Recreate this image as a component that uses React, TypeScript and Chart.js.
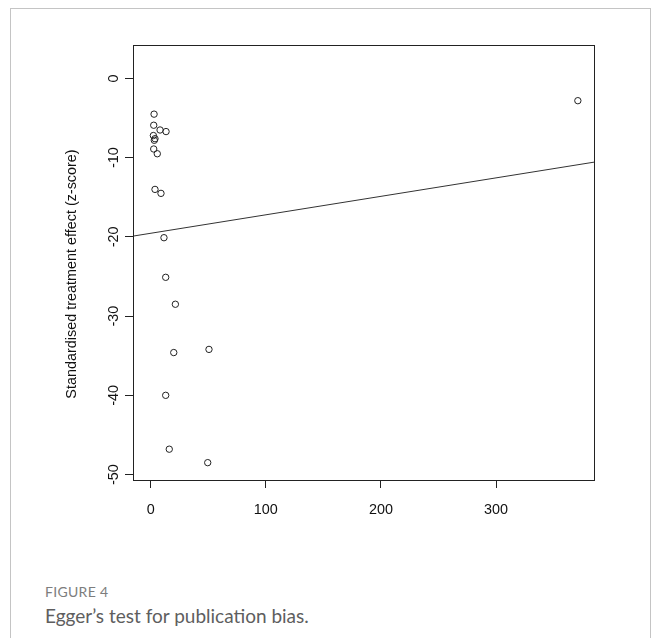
import React, { useEffect, useRef } from "react";
import { Chart, registerables } from "chart.js";

Chart.register(...registerables);

// Study points (inverse of standard error vs standardised effect)
const inverseSE = [2.9, 2.6, 8.1, 13.3, 2.3, 3.1, 3.7, 2.6, 5.7, 3.7, 8.9, 11.5, 13.0, 21.4, 20.0, 50.6, 13.0, 16.1, 49.5, 371];
const zScore = [-4.5, -5.9, -6.5, -6.7, -7.2, -7.8, -7.6, -8.9, -9.5, -14.0, -14.5, -20.1, -25.1, -28.5, -34.6, -34.2, -40.0, -46.8, -48.5, -2.8];

// Egger regression line (abline)
const regIntercept = -19.54;
const regSlope = 0.02332;

// Axes
const xTicks = [0, 100, 200, 300];
const yTicks = [0, -10, -20, -30, -40, -50];
const xRange = [-15.4, 385.9];
const yRange = [-50.69, 4.23];

const xTitle = "Inverse of standard error";
const yTitle = "Standardised treatment effect (z-score)";
const figureLabel = "FIGURE 4";
const caption = "Egger\u2019s test for publication bias.";

const FONT = '"Liberation Sans", Arial, Helvetica, sans-serif';

export default function App() {
  const ref = useRef<HTMLCanvasElement | null>(null);

  useEffect(() => {
    if (!ref.current) return;
    const points = inverseSE.map((x, i) => ({ x, y: zScore[i] }));
    const linePts = xRange.map((x) => ({ x, y: regIntercept + regSlope * x }));

    const boxAndTitles = {
      id: "boxAndTitles",
      afterDraw(chart: any) {
        const { ctx, chartArea } = chart;
        const { left, right, top, bottom } = chartArea;
        ctx.save();
        ctx.strokeStyle = "#222";
        ctx.lineWidth = 1;
        ctx.strokeRect(Math.round(left) + 0.5, Math.round(top) + 0.5, Math.round(right - left) - 1, Math.round(bottom - top));
        ctx.font = `14.4px ${FONT}`;
        ctx.fillStyle = "#111";
        ctx.textAlign = "center";
        ctx.textBaseline = "middle";
        ctx.fillText(xTitle, (left + right) / 2 - 12, bottom + 68);
        ctx.translate(left - 61, (top + bottom) / 2 + 11.5);
        ctx.rotate(-Math.PI / 2);
        ctx.fillText(yTitle, 0, 0);
        ctx.restore();
      },
    };

    const chart = new Chart(ref.current, {
      type: "scatter",
      data: {
        datasets: [
          {
            label: "studies",
            data: points,
            pointStyle: "circle",
            pointRadius: 3.2,
            pointHoverRadius: 3.2,
            pointBorderWidth: 1,
            borderColor: "#222",
            backgroundColor: "rgba(0,0,0,0)",
            pointBackgroundColor: "rgba(0,0,0,0)",
            pointBorderColor: "#222",
          },
          {
            type: "line",
            label: "regression",
            data: linePts,
            showLine: true,
            pointRadius: 0,
            borderColor: "#333",
            borderWidth: 1,
            fill: false,
          } as any,
        ],
      },
      options: {
        responsive: false,
        animation: false,
        events: [],
        layout: { padding: { top: 45, right: 59, bottom: 0, left: 0 } },
        plugins: { legend: { display: false }, tooltip: { enabled: false } },
        scales: {
          x: {
            type: "linear",
            position: "bottom",
            min: xRange[0],
            max: xRange[1],
            afterBuildTicks: (s: any) => {
              s.ticks = xTicks.map((v) => ({ value: v }));
            },
            afterFit: (s: any) => {
              s.height = 60;
            },
            ticks: {
              includeBounds: false,
              padding: 13.5,
              color: "#111",
              font: { family: FONT, size: 14.4 },
            },
            grid: { drawOnChartArea: false, drawTicks: true, tickLength: 8, color: "#222", lineWidth: 1 },
            border: { display: false },
          },
          y: {
            type: "linear",
            position: "left",
            min: yRange[0],
            max: yRange[1],
            afterBuildTicks: (s: any) => {
              s.ticks = yTicks.map((v) => ({ value: v }));
            },
            afterFit: (s: any) => {
              s.width = 133;
            },
            ticks: {
              includeBounds: false,
              minRotation: 90,
              maxRotation: 90,
              crossAlign: "center",
              padding: 1,
              color: "#111",
              font: { family: FONT, size: 14.4 },
            },
            grid: { drawOnChartArea: false, drawTicks: true, tickLength: 8, color: "#222", lineWidth: 1 },
            border: { display: false },
          },
        },
      },
      plugins: [boxAndTitles],
    });
    return () => chart.destroy();
  }, []);

  return (
    <div style={{ position: "absolute", left: 0, top: 0, width: 654, height: 638, overflow: "hidden", background: "#fff" }}>
      <div
        style={{
          position: "absolute",
          left: 10,
          top: 8,
          width: 641,
          height: 700,
          border: "1px solid #c4c4c4",
          boxSizing: "border-box",
        }}
      />
      <canvas ref={ref} width={654} height={540} style={{ position: "absolute", left: 0, top: 0, width: 654, height: 540, display: "block" }} />
      <div
        style={{
          position: "absolute",
          left: 45,
          top: 583,
          fontFamily: "Lato, 'Open Sans', sans-serif",
          fontSize: 14,
          color: "#7d7d7d",
          lineHeight: "18px",
          letterSpacing: 0.3,
        }}
      >
        {figureLabel}
      </div>
      <div
        style={{
          position: "absolute",
          left: 45,
          top: 604,
          fontFamily: "Lato, 'Open Sans', sans-serif",
          fontSize: 19,
          color: "#5e5e5e",
          lineHeight: "24px",
        }}
      >
        {caption}
      </div>
    </div>
  );
}
